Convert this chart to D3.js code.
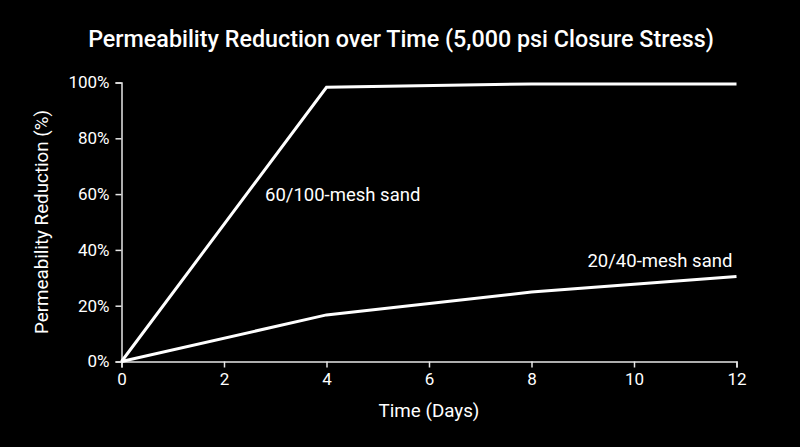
<!DOCTYPE html>
<html>
<head>
<meta charset="utf-8">
<script src="https://cdn.jsdelivr.net/npm/d3@7"></script>
<style>
  body { margin: 0; background: #000; }
  svg { display: block; font-family: Roboto, "Noto Sans", sans-serif; }
  .axis path, .axis line { stroke: #e6e6e6; stroke-width: 1.5; }
  .axis text { fill: #fff; font-size: 17px; font-family: Roboto, sans-serif; }
  .line { fill: none; stroke: #fff; stroke-width: 3; stroke-linejoin: miter; }
</style>
</head>
<body>
<div id="chart"></div>
<script>
// data
var days = [0, 4, 8, 12];
var mesh60_100 = [0, 98.3, 99.5, 99.5];
var mesh20_40 = [0, 16.7, 24.9, 30.5];
var xTicks = [0, 2, 4, 6, 8, 10, 12];
var yTicks = [0, 20, 40, 60, 80, 100];

var margin = {top: 82.5, right: 63.5, bottom: 85.5, left: 121.5},
    width = 800 - margin.left - margin.right,
    height = 447 - margin.top - margin.bottom;

var svg = d3.select("#chart")
  .append("svg")
    .attr("width", 800)
    .attr("height", 447)
    .style("background", "#000");

var g = svg.append("g")
    .attr("transform", "translate(" + margin.left + "," + margin.top + ")");

var x = d3.scaleLinear().domain([0, 12]).range([0, width]);
var y = d3.scaleLinear().domain([0, 100]).range([height, 0]);

g.append("g")
    .attr("class", "axis axis--x")
    .attr("transform", "translate(0," + height + ")")
    .call(d3.axisBottom(x).tickValues(xTicks).tickSize(6).tickSizeOuter(6).tickPadding(5));

g.append("g")
    .attr("class", "axis axis--y")
    .call(d3.axisLeft(y).tickValues(yTicks).tickSize(6).tickSizeOuter(6).tickPadding(6)
      .tickFormat(function(d) { return d + "%"; }));

var line = d3.line()
    .x(function(d) { return x(d[0]); })
    .y(function(d) { return y(d[1]); });

g.append("path")
    .datum(d3.zip(days, mesh20_40))
    .attr("class", "line")
    .attr("d", line);

g.append("path")
    .datum(d3.zip(days, mesh60_100))
    .attr("class", "line")
    .attr("d", line);

// series labels
g.append("text")
    .attr("x", x(2.8))
    .attr("y", y(57.6))
    .attr("fill", "#fff")
    .style("font-size", "18.5px")
    .text("60/100-mesh sand");

g.append("text")
    .attr("x", x(11.92))
    .attr("y", y(33.8))
    .attr("fill", "#fff")
    .attr("text-anchor", "end")
    .style("font-size", "18.5px")
    .text("20/40-mesh sand");

// titles
svg.append("text")
    .attr("x", 401)
    .attr("y", 47)
    .attr("text-anchor", "middle")
    .attr("fill", "#fff")
    .style("font-size", "23.3px")
    .style("font-weight", "500")
    .text("Permeability Reduction over Time (5,000 psi Closure Stress)");

svg.append("text")
    .attr("x", margin.left + width / 2)
    .attr("y", 417)
    .attr("text-anchor", "middle")
    .attr("fill", "#fff")
    .style("font-size", "18.8px")
    .text("Time (Days)");

svg.append("text")
    .attr("transform", "translate(48," + (margin.top + height / 2) + ") rotate(-90)")
    .attr("text-anchor", "middle")
    .attr("fill", "#fff")
    .style("font-size", "18.8px")
    .text("Permeability Reduction (%)");
</script>
</body>
</html>
